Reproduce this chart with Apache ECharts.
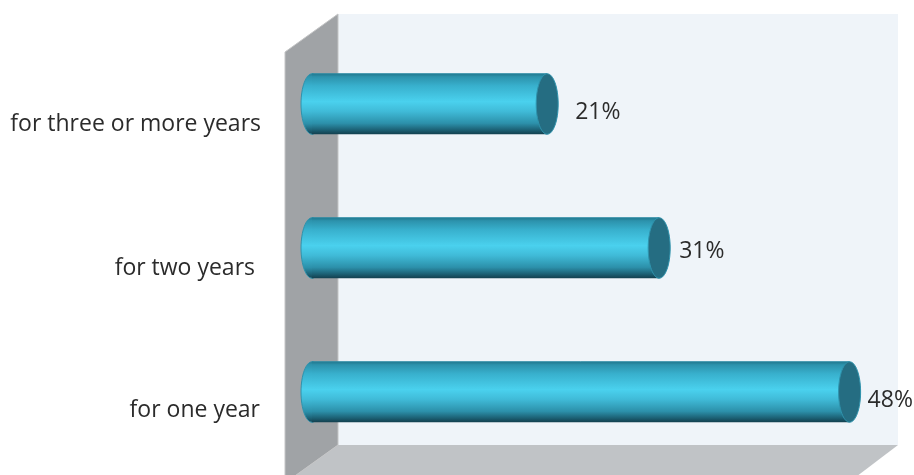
<!DOCTYPE html>
<html>
<head>
<meta charset="utf-8">
<style>html,body{margin:0;padding:0;background:#fff}#c{width:914px;height:475px}</style>
<script src="https://cdn.jsdelivr.net/npm/echarts@6/dist/echarts.min.js"></script>
</head>
<body>
<div id="c"></div>
<script>
// Duration shares, bottom to top
const categories = ['for one year', 'for two years', 'for three or more years'];
const shares = [48, 31, 21];
const categoryNudge = ['one', 'two', 'three'];
const valueLabelOffset = [[7, 8], [9, 3], [17, 8]];

const FONT = '"Open Sans", sans-serif';
const INK = '#2b2b2b';

const chart = echarts.init(document.getElementById('c'));

const cylinderFill = () => new echarts.graphic.LinearGradient(0, 0, 0, 1, [
  { offset: 0, color: '#20758c' },
  { offset: 0.05, color: '#2c92ac' },
  { offset: 0.2, color: '#38b0cd' },
  { offset: 0.46, color: '#4ad1ee' },
  { offset: 0.62, color: '#40bbd8' },
  { offset: 0.82, color: '#2c90aa' },
  { offset: 0.93, color: '#1c6074' },
  { offset: 1, color: '#123f4e' }
]);

function renderCylinder(params, api) {
  const i = params.dataIndex;
  const start = api.coord([0, i]);
  const end = api.coord([api.value(0), i]);
  const ry = api.size([0, 1])[1] * 0.21;
  const rx = 11;
  const edge = { stroke: '#2f93ad', lineWidth: 1 };
  const [dx, dy] = valueLabelOffset[i];
  return {
    type: 'group',
    children: [
      { type: 'ellipse', shape: { cx: start[0], cy: start[1], rx, ry },
        style: { fill: cylinderFill(), ...edge } },
      { type: 'rect', shape: { x: start[0], y: start[1] - ry, width: end[0] - start[0], height: ry * 2 },
        style: { fill: cylinderFill() } },
      { type: 'line', shape: { x1: start[0], y1: start[1] - ry, x2: end[0], y2: end[1] - ry },
        style: { stroke: '#2a8aa3', lineWidth: 1 } },
      { type: 'ellipse', shape: { cx: end[0], cy: end[1], rx, ry },
        style: { fill: '#256d82', ...edge } },
      { type: 'text',
        style: { x: end[0] + rx + dx, y: end[1] + dy, text: api.value(0) + '%',
          fill: INK, font: '23px ' + FONT, textAlign: 'left', textVerticalAlign: 'middle' } }
    ]
  };
}

const nudgeStyle = (top, right) => ({
  fontFamily: FONT, fontSize: 23, color: INK, padding: [top, right, 0, 0]
});

chart.setOption({
  animation: false,
  backgroundColor: '#fff',
  grid: { left: 312, top: 32, width: 560, height: 432 },
  // Box of the 3D plot: back wall, side wall and floor
  graphic: [
    { type: 'rect', z: -10, shape: { x: 338, y: 14, width: 560, height: 431 }, style: { fill: '#eff4f9' } },
    { type: 'polygon', z: -9, shape: { points: [[338, 445], [898, 445], [848, 483], [285, 483]] },
      style: { fill: '#c0c3c6' } },
    { type: 'polygon', z: -8, shape: { points: [[285, 52], [338, 14], [338, 445], [285, 483]] },
      style: { fill: '#a0a3a6', stroke: '#c4c5c6', lineWidth: 1 } }
  ],
  xAxis: { type: 'value', min: 0, max: 50, show: false },
  yAxis: {
    type: 'category',
    data: categories,
    axisLine: { show: false },
    axisTick: { show: false },
    axisLabel: {
      margin: 51,
      formatter: (v, i) => '{' + categoryNudge[i] + '|' + v + '}',
      rich: {
        one: nudgeStyle(36, 1),
        two: nudgeStyle(40, 6),
        three: nudgeStyle(40, 0)
      }
    }
  },
  series: [{
    type: 'custom',
    renderItem: renderCylinder,
    clip: false,
    data: shares.map(v => [v]),
    encode: { x: 0 }
  }]
});
</script>
</body>
</html>
